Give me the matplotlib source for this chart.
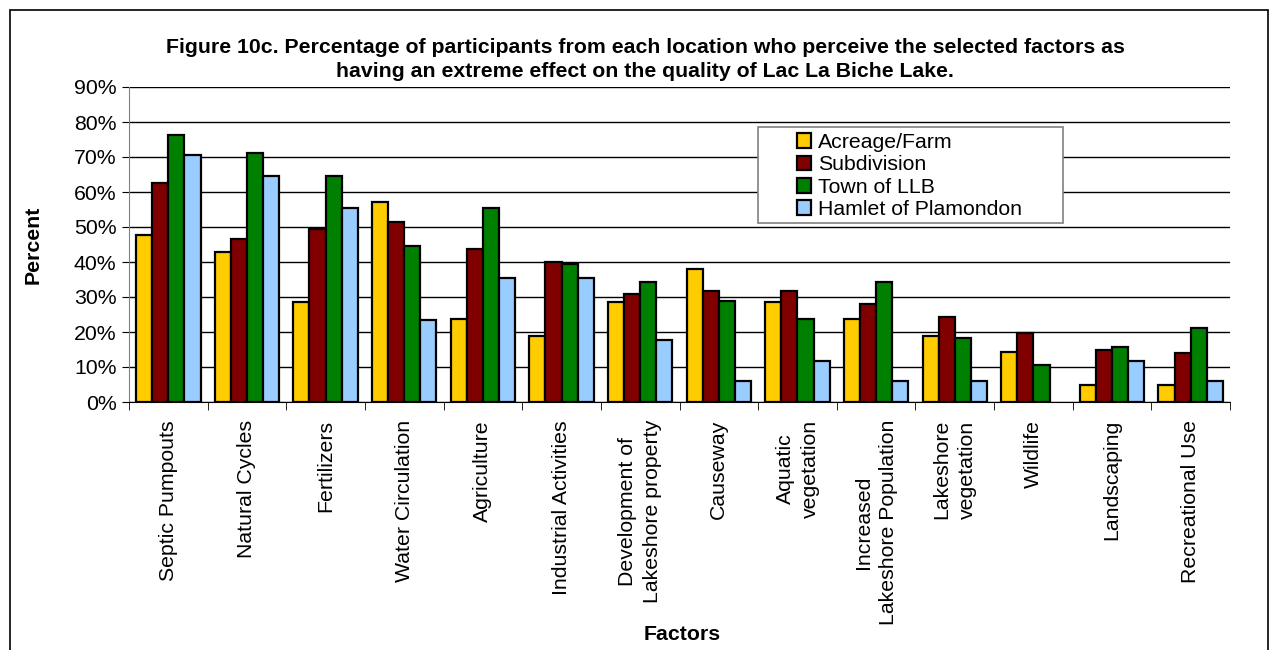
import matplotlib
matplotlib.use("Agg")
import matplotlib.pyplot as plt
import numpy as np
from matplotlib.patches import Rectangle
from matplotlib.ticker import FixedLocator, PercentFormatter

plt.rcParams['font.family'] = ['Liberation Sans', 'DejaVu Sans']

categories = ["Septic Pumpouts", "Natural Cycles", "Fertilizers", "Water Circulation",
              "Agriculture", "Industrial Activities", "Development of\nLakeshore property",
              "Causeway", "Aquatic\nvegetation", "Increased\nLakeshore Population",
              "Lakeshore\nvegetation", "Wildlife", "Landscaping", "Recreational Use"]
series_names = ["Acreage/Farm", "Subdivision", "Town of LLB", "Hamlet of Plamondon"]
acreage = [47.6, 42.9, 28.6, 57.1, 23.8, 19.0, 28.6, 38.1, 28.6, 23.8, 19.0, 14.3, 4.8, 4.8]
subdivision = [62.5, 46.7, 49.5, 51.4, 43.8, 40.0, 30.8, 31.6, 31.6, 27.9, 24.3, 19.6, 14.9, 14.0]
town = [76.2, 71.1, 64.7, 44.7, 55.3, 39.5, 34.2, 28.9, 23.7, 34.2, 18.4, 10.5, 15.8, 21.1]
hamlet = [70.6, 64.7, 55.3, 23.5, 35.3, 35.3, 17.6, 5.9, 11.8, 5.9, 5.9, 0.0, 11.8, 5.9]
colors = ["#FFCC00", "#800000", "#008000", "#99CCFF"]

W, H = 1280, 650
FS = 15.3
fig = plt.figure(figsize=(W / 100, H / 100), dpi=100)
fig.patches.append(Rectangle((10 / W, -0.1), (1268 - 10) / W, 1.1 - 10 / H,
                             transform=fig.transFigure, fill=False, edgecolor='black',
                             linewidth=1.2))

ax = fig.add_axes([129 / W, (H - 402) / H, (1230 - 129) / W, (402 - 87) / H])
n = len(categories)
x = np.arange(n)
bw = 0.205
data = [acreage, subdivision, town, hamlet]
for i, (vals, name, c) in enumerate(zip(data, series_names, colors)):
    vals = np.asarray(vals)
    lws = [1.6 if v > 0 else 0 for v in vals]
    ax.bar(x + (i - 1.5) * bw, vals, bw, color=c, edgecolor='black', linewidth=lws,
           label=name, zorder=3)

ax.set_xlim(-0.5, n - 0.5)
ax.set_ylim(0, 90)
ax.set_yticks(np.arange(0, 91, 10))
ax.yaxis.set_major_formatter(PercentFormatter(decimals=0))
ax.grid(axis='y', color='black', linewidth=1.0, zorder=0)
ax.set_axisbelow(True)
for s in ['top', 'right']:
    ax.spines[s].set_visible(False)
ax.spines['left'].set_color('#808080')
ax.spines['bottom'].set_color('black')
ax.tick_params(axis='y', direction='out', length=5, labelsize=FS, pad=4, color='black')

ax.set_xticks(x)
ax.set_xticklabels(categories, rotation=90, fontsize=FS, va='top', ha='center',
                   multialignment='center', linespacing=1.4)
ax.tick_params(axis='x', which='major', length=0, pad=13)
ax.xaxis.set_minor_locator(FixedLocator(np.arange(-0.5, n, 1.0)))
ax.tick_params(axis='x', which='minor', direction='out', length=6, color='black')

fig.text(33 / W, 1 - 245 / H, "Percent", fontsize=FS, fontweight='bold',
         ha='center', va='center', rotation=90)
fig.text(682 / W, 1 - 634 / H, "Factors", fontsize=FS, fontweight='bold',
         ha='center', va='center')
fig.text(645 / W, 1 - 59.5 / H,
         "Figure 10c. Percentage of participants from each location who perceive the selected factors as\nhaving an extreme effect on the quality of Lac La Biche Lake.",
         fontsize=FS, fontweight='bold', ha='center', va='center', linespacing=1.37)

# legend frame (white box with grey border)
ax.add_patch(Rectangle((758 / W, 1 - 223 / H), (1063 - 758) / W, (223 - 127) / H,
                       transform=fig.transFigure, facecolor='white', edgecolor='#808080',
                       linewidth=1.2, zorder=5))
leg = ax.legend(loc='upper left', bbox_to_anchor=(797 / W, 1 - 133 / H),
                bbox_transform=fig.transFigure,
                fontsize=FS, frameon=False,
                handlelength=0.68, handleheight=0.68, handletextpad=0.3,
                labelspacing=0.16, borderpad=0, borderaxespad=0)
leg.set_zorder(6)
for p in leg.get_patches():
    p.set_linewidth(1.6)

fig.savefig("out.png", dpi=100)
